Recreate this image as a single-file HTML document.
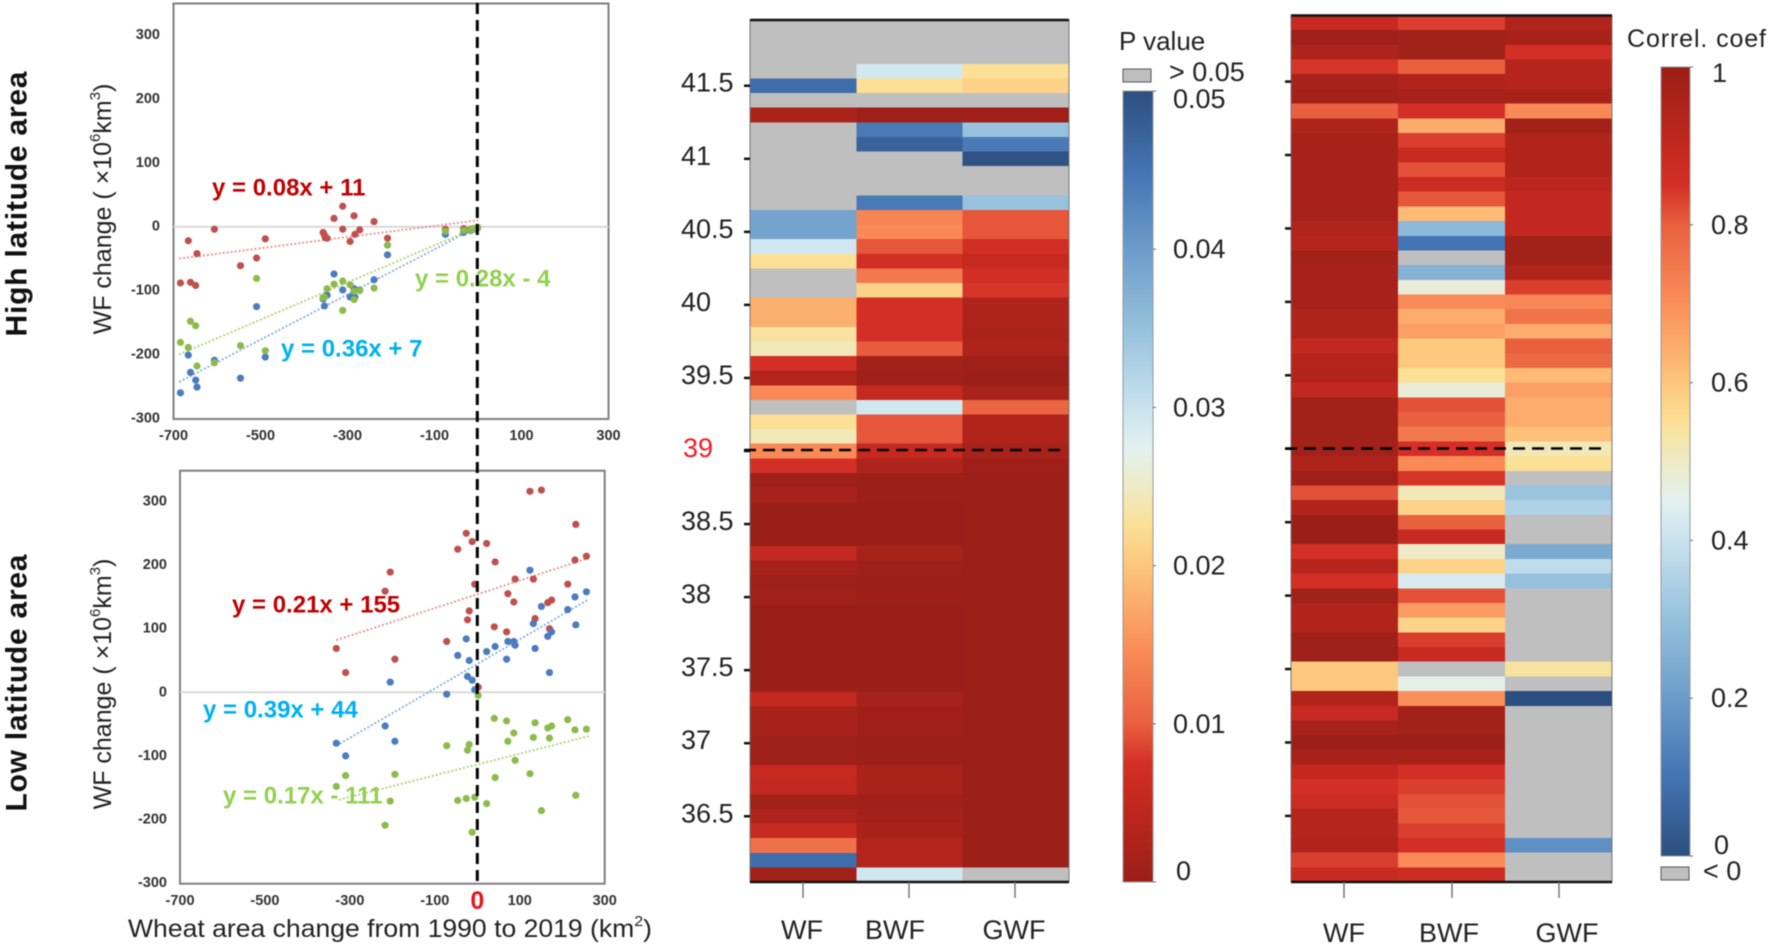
<!DOCTYPE html>
<html lang="en">
<head>
<meta charset="utf-8">
<title>Wheat water footprint change and latitude heatmaps</title>
<style>
html,body{margin:0;padding:0;background:#fff;}
svg{display:block;font-family:"Liberation Sans",sans-serif;filter:blur(0.5px);}
text{dominant-baseline:central;}
.tick{font-size:14.5px;font-weight:700;fill:#333;}
.eq{font-size:24px;font-weight:700;}
.big{font-size:27px;fill:#222;}
</style>
</head>
<body>
<svg id="figure" xmlns="http://www.w3.org/2000/svg" width="1772" height="946" viewBox="0 0 1772 946">
  <rect width="1772" height="946" fill="#fff"/>
  <defs>
    <linearGradient id="pGrad" x1="0" y1="1" x2="0" y2="0"></linearGradient>
    <linearGradient id="rGrad" x1="0" y1="0" x2="0" y2="1"></linearGradient>
  </defs>

  <text transform="translate(17,204) rotate(-90)" text-anchor="middle" font-size="30" font-weight="700" fill="#111" textLength="265" lengthAdjust="spacing">High latitude area</text>
  <text transform="translate(17,683) rotate(-90)" text-anchor="middle" font-size="30" font-weight="700" fill="#111" textLength="257" lengthAdjust="spacing">Low latitude area</text>

  <text transform="translate(103,209) rotate(-90)" text-anchor="middle" font-size="25" fill="#222">WF change ( ×10<tspan font-size="15" dy="-8">6</tspan><tspan dy="8">km</tspan><tspan font-size="15" dy="-8">3</tspan><tspan dy="8">)</tspan></text>
  <text transform="translate(103,684) rotate(-90)" text-anchor="middle" font-size="25" fill="#222">WF change ( ×10<tspan font-size="15" dy="-8">6</tspan><tspan dy="8">km</tspan><tspan font-size="15" dy="-8">3</tspan><tspan dy="8">)</tspan></text>

  <rect x="173.5" y="3.5" width="435" height="415.5" fill="none" stroke="#7f7f7f" stroke-width="2"/>
  <rect x="180" y="470.7" width="424.7" height="413" fill="none" stroke="#7f7f7f" stroke-width="2"/>

  <g id="scatterHigh"></g>
  <g id="scatterLow"></g>

  <text class="eq" x="212" y="188" fill="#c00000">y = 0.08x + 11</text>
  <text class="eq" x="415" y="279" fill="#92d050">y = 0.28x - 4</text>
  <text class="eq" x="281" y="349" fill="#00b0f0">y = 0.36x + 7</text>
  <text class="eq" x="232" y="605" fill="#c00000">y = 0.21x + 155</text>
  <text class="eq" x="203" y="710" fill="#00b0f0">y = 0.39x + 44</text>
  <text class="eq" x="223" y="796" fill="#92d050">y = 0.17x - 111</text>

  <line x1="477.3" y1="3" x2="477.3" y2="882" stroke="#000" stroke-width="3" stroke-dasharray="11 6"/>
  <text x="477.3" y="901" text-anchor="middle" font-size="25" font-weight="700" fill="#e8151b">0</text>
  <text x="128" y="929" font-size="25" fill="#222" textLength="524" lengthAdjust="spacingAndGlyphs">Wheat area change from 1990 to 2019 (km<tspan font-size="15" dy="-8">2</tspan><tspan dy="8">)</tspan></text>

  <g id="heatP"></g>
  <g id="heatR"></g>

  <line x1="744" y1="450" x2="1065" y2="450" stroke="#000" stroke-width="2.5" stroke-dasharray="12 7"/>
  <line x1="1285" y1="448.5" x2="1604" y2="448.5" stroke="#000" stroke-width="2.5" stroke-dasharray="12 7"/>

  <text x="1119" y="41" font-size="26" fill="#222">P value</text>
  <rect x="1123" y="69" width="28" height="13" fill="#bfbfbf" stroke="#555" stroke-width="1"/>
  <text class="big" x="1169" y="72">&gt; 0.05</text>
  <rect x="1123" y="91" width="30" height="791" fill="url(#pGrad)" stroke="#999" stroke-width="1"/>
  <g id="pTicks"></g>

  <text x="1627" y="39" font-size="25" fill="#222" textLength="139">Correl. coef</text>
  <rect x="1661" y="67" width="29" height="789" fill="url(#rGrad)" stroke="#999" stroke-width="1"/>
  <g id="rTicks"></g>
  <rect x="1661" y="867" width="28" height="13" fill="#bfbfbf" stroke="#555" stroke-width="1"/>
  <text class="big" x="1703" y="871">&lt; 0</text>
</svg>
<script>
/* ---------- scatter data: x = wheat area change, y = WF change ---------- */
var xTickLabels = [-700, -500, -300, -100, 100, 300];
var yTickLabels = [300, 200, 100, 0, -100, -200, -300];

var highRedX = [-684,-666,-661,-649,-646,-606,-546,-509,-489,-356,-353,-351,-347,-331,-311,-311,-294,-285,-283,-272,-239,-208,-75,-33,-17,-10,-1];
var highRedY = [-88,-22,-87,-92,-42,-4,-61,-49,-19,-9,-13,-17,-18,13,32,-4,-23,17,-12,-5,8,-18,-4,-3,-4,-3,-1];
var highBlueX = [-684,-666,-661,-649,-646,-606,-546,-509,-489,-356,-353,-347,-331,-311,-294,-285,-283,-272,-239,-208,-75,-33,-17,-10,-1];
var highBlueY = [-260,-201,-228,-240,-251,-209,-237,-125,-204,-113,-124,-107,-74,-99,-110,-97,-110,-99,-83,-44,-12,-9,-6,-4,-2];
var highGreenX = [-684,-666,-661,-649,-646,-606,-546,-509,-489,-356,-353,-347,-331,-311,-311,-294,-285,-285,-272,-239,-208,-75,-33,-17,-10,-1];
var highGreenY = [-181,-189,-148,-155,-218,-213,-186,-81,-194,-111,-110,-97,-90,-85,-131,-91,-101,-114,-100,-96,-29,-7,-6,-5,-3,-1];
var highRedTrendX = [-687, 0];
var highRedTrendY = [-50, 10];
var highBlueTrendX = [-687, 0];
var highBlueTrendY = [-243, 0];
var highGreenTrendX = [-687, 0];
var highGreenTrendY = [-200, 0];

var lowRedX = [-332,-310,-217,-205,-194,-72,-46,-26,-23,-19,-12,-6,2,22,40,42,69,72,86,89,124,132,136,151,166,170,175,213,230,232,257];
var lowRedY = [69,31,159,189,52,80,225,250,114,128,237,170,8,234,103,205,95,155,142,178,316,178,116,318,141,100,145,170,208,264,214];
var lowBlueX = [-332,-310,-217,-205,-194,-72,-46,-26,-23,-19,-12,-6,22,42,69,72,86,89,124,132,136,151,166,170,175,213,230,232,257];
var lowBlueY = [-80,-100,-53,16,-77,-3,58,84,25,50,19,4,64,72,52,80,80,74,192,108,69,135,88,31,95,130,150,106,158];
var lowGreenX = [-332,-310,-217,-205,-194,-72,-46,-26,-23,-19,-12,-6,2,22,40,42,69,72,86,89,124,132,136,151,166,170,175,213,230,232,257];
var lowGreenY = [-148,-131,-209,-171,-129,-84,-170,-167,-91,-82,-220,-165,-5,-175,-41,-134,-45,-77,-64,-107,-128,-71,-48,-186,-56,-72,-53,-43,-59,-162,-58];
var lowRedTrendX = [-332, 262];
var lowRedTrendY = [82, 211];
var lowBlueTrendX = [-332, 262];
var lowBlueTrendY = [-84, 146];
var lowGreenTrendX = [-326, 262];
var lowGreenTrendY = [-169, -69];

/* ---------- heatmap data: one value per 0.1 degree row, north to south; null = grey ---------- */
var n = null;
var columnLabels = ['WF', 'BWF', 'GWF'];
var latitudeTicks = [41.5, 41, 40.5, 40, 39.5, 39, 38.5, 38, 37.5, 37, 36.5];
var firstRowLatitude = 41.9;

var pWF = [n,n,n,n,.046,n,.002,n,n,n,n,n,n,.039,.039,.0293,.0225,n,n,.018,.018,.023,.0243,.0075,.003,.0145,n,.0225,.0243,.0145,.0075,
  .0005,.0015,0,0,0,.0052,.0015,.0005,.001,0,0,0,0,0,0,.0052,.0015,.0015,.0005,.0005,.0055,.0052,.001,.0025,.0058,.0118,.046,.001];
var pBWF = [n,n,n,.029,.0225,n,.0005,.0443,.0475,n,n,n,.0443,.0138,.0145,.0095,.0072,.0125,.0212,.0075,.0075,.0075,.0098,.0012,.0008,.0055,.0293,.0095,.0095,.0055,.0025,
  .0003,.0003,0,0,0,.0015,.0005,.0003,.0003,0,0,0,0,0,0,.0015,.0008,.0008,.0003,.0003,.002,.002,.0008,.0012,.0018,.003,.003,.0293];
var pGWF = [n,n,n,.0225,.0212,n,.0005,.0348,.0443,.0495,n,n,.0348,.0095,.0095,.0072,.0055,.0072,.0078,.0025,.0025,.002,.0025,.0008,.0003,.0015,.0105,.0028,.0028,.0015,.0008,
  .0002,.0002,.0002,.0002,.0002,.0002,.0002,.0002,.0002,.0002,.0002,.0002,.0002,.0002,.0002,.0002,.0002,.0002,.0002,.0002,.0002,.0002,.0002,.0002,.0002,.0002,.0003,n];

var rWF = [.885,.99,.95,.845,.97,.98,.8,.95,.965,.97,.97,.97,.97,.97,.945,.93,.98,.97,.97,.97,.95,.95,.9,.93,.945,.9,.98,.98,.98,.98,
  .95,.99,.815,.945,1,1,.85,.93,.85,.98,.945,.945,.99,.99,.595,.595,.945,.885,.97,.995,.97,.9,.85,.875,.93,.93,.945,.835,.885];
var rBWF = [.835,.98,.98,.8,.945,.97,.85,.645,.835,.885,.815,.875,.81,.62,.28,.1,n,.26,.48,.71,.645,.67,.595,.595,.55,.48,.815,.8,.75,.85,
  .71,.845,.515,.575,.8,.885,.5,.575,.43,.815,.68,.575,.835,.885,n,.46,.7,.98,.98,.995,.965,.85,.835,.815,.81,.835,.85,.71,.875];
var rGWF = [.945,.965,.85,.93,.93,.965,.71,.98,.945,.945,.945,.92,.9,.9,.9,.98,.98,.945,.835,.715,.76,.645,.8,.78,.62,.67,.645,.645,.61,.515,
  .55,n,.31,.35,n,n,.24,.38,.3,n,n,n,n,n,.54,n,0,n,n,n,n,n,n,n,n,n,.17,n,n];

var pBarTicks = [0.05, 0.04, 0.03, 0.02, 0.01, 0];
var pBarLabels = ['0.05', '0.04', '0.03', '0.02', '0.01', '0'];
var rBarTicks = [1, 0.8, 0.6, 0.4, 0.2, 0];
var rBarLabels = ['1', '0.8', '0.6', '0.4', '0.2', '0'];

var rampPos = [0, .1, .15, .2, .3, .4, .45, .5, .55, .6, .7, .8, .9, 1];
var rampCol = ['#9a1f18','#c2281f','#d32f26','#e9603f','#fb8f5a','#fdc67c','#fbe095','#eeebc6','#e2f1f0','#c9e3ee','#96c1dd','#6b9cca','#4374b3','#2c4f7f'];

/* ---------- helpers ---------- */
var SVGNS = 'http://www.w3.org/2000/svg';
function mk(parent, tag, attrs, text) {
  var e = document.createElementNS(SVGNS, tag);
  for (var k in attrs) e.setAttribute(k, attrs[k]);
  if (text !== undefined) e.textContent = text;
  parent.appendChild(e);
  return e;
}
function hex(c) { return [parseInt(c.substr(1,2),16), parseInt(c.substr(3,2),16), parseInt(c.substr(5,2),16)]; }
function ramp(t) {
  t = Math.max(0, Math.min(1, t));
  for (var i = 1; i < rampPos.length; i++) {
    if (t <= rampPos[i]) {
      var f = (t - rampPos[i-1]) / (rampPos[i] - rampPos[i-1]);
      var a = hex(rampCol[i-1]), b = hex(rampCol[i]);
      return 'rgb(' + Math.round(a[0]+(b[0]-a[0])*f) + ',' + Math.round(a[1]+(b[1]-a[1])*f) + ',' + Math.round(a[2]+(b[2]-a[2])*f) + ')';
    }
  }
  return rampCol[rampCol.length-1];
}

/* ---------- colorbar gradients: both run dark red to dark blue along their ramp ---------- */
rampPos.forEach(function (p, i) {
  mk(document.getElementById('pGrad'), 'stop', {offset: p, 'stop-color': rampCol[i]});
  mk(document.getElementById('rGrad'), 'stop', {offset: p, 'stop-color': rampCol[i]});
});

/* ---------- scatter panels ---------- */
function drawScatter(g, left, right, zeroY, unitY, labelRight, xLabelY, series) {
  var scaleX = function (v) { return left + (v + 700) / 1000 * (right - left); };
  var scaleY = function (v) { return zeroY - v * unitY; };
  var zero = mk(g, 'line', {x1: left, x2: right, y1: scaleY(0), y2: scaleY(0), stroke: '#d9d9d9', 'stroke-width': 2});
  
  
  yTickLabels.forEach(function (v) {
    var t = mk(g, 'text', {x: labelRight, y: scaleY(v), 'text-anchor': 'end', 'class': 'tick'}, v);
    
    
  });
  xTickLabels.forEach(function (v) {
    var t = mk(g, 'text', {x: scaleX(v), y: xLabelY, 'text-anchor': 'middle', 'class': 'tick'}, v);
    
    
  });
  series.forEach(function (s) {
    var line = mk(g, 'line', {x1: scaleX(s.tx[0]), y1: scaleY(s.ty[0]), x2: scaleX(s.tx[1]), y2: scaleY(s.ty[1]), stroke: s.trend, 'stroke-width': 2, 'stroke-dasharray': '2 2'});
    
    
  });
  series.forEach(function (s) {
    s.x.forEach(function (v, i) {
      var c = mk(g, 'circle', {cx: scaleX(v), cy: scaleY(s.y[i]), r: 3.6, fill: s.color});
      
      
    });
  });
}
drawScatter(document.getElementById('scatterHigh'), 173.5, 608.5, 226.7, 0.639, 160, 436, [
  {name: 'wf-red', x: highRedX, y: highRedY, tx: highRedTrendX, ty: highRedTrendY, color: '#bf504d', trend: '#e29a97'},
  {name: 'bwf-blue', x: highBlueX, y: highBlueY, tx: highBlueTrendX, ty: highBlueTrendY, color: '#4a7cbf', trend: '#8fb2dc'},
  {name: 'gwf-green', x: highGreenX, y: highGreenY, tx: highGreenTrendX, ty: highGreenTrendY, color: '#8cbb4c', trend: '#b3d37e'}
]);
drawScatter(document.getElementById('scatterLow'), 180, 604.7, 692.3, 0.636, 167, 901, [
  {name: 'wf-red', x: lowRedX, y: lowRedY, tx: lowRedTrendX, ty: lowRedTrendY, color: '#bf504d', trend: '#e29a97'},
  {name: 'bwf-blue', x: lowBlueX, y: lowBlueY, tx: lowBlueTrendX, ty: lowBlueTrendY, color: '#4a7cbf', trend: '#8fb2dc'},
  {name: 'gwf-green', x: lowGreenX, y: lowGreenY, tx: lowGreenTrendX, ty: lowGreenTrendY, color: '#8cbb4c', trend: '#b3d37e'}
]);

/* ---------- heatmaps ---------- */
function drawHeatmap(g, columns, toT, left, right, top, bottom, tickCenters, labelCenters, labelY, name) {
  var rows = columns[0].length;
  var rowH = (bottom - top) / rows;
  var colW = (right - left) / columns.length;
  columns.forEach(function (col, c) {
    col.forEach(function (v, r) {
      var cell = mk(g, 'rect', {x: left + c * colW, y: top + r * rowH, width: colW + 0.5, height: rowH + 0.5,
        fill: v === null ? '#bfbfbf' : ramp(toT(v)), 'shape-rendering': 'crispEdges'});
      
      
    });
  });
  var frameL = mk(g, 'line', {x1: left, x2: left, y1: top, y2: bottom, stroke: '#777', 'stroke-width': 1});
  
  
  var frameR = mk(g, 'line', {x1: right, x2: right, y1: top, y2: bottom, stroke: '#777', 'stroke-width': 1});
  
  
  var frameT = mk(g, 'line', {x1: left, x2: right, y1: top, y2: top, stroke: '#111', 'stroke-width': 2.5});
  
  
  var frameB = mk(g, 'line', {x1: left, x2: right, y1: bottom, y2: bottom, stroke: '#111', 'stroke-width': 2.5});
  
  
  latitudeTicks.forEach(function (lat) {
    var y = top + ((firstRowLatitude - lat) / 0.1 + 0.5) * rowH;
    var tk = mk(g, 'line', {x1: left - 6, x2: left, y1: y, y2: y, stroke: '#111', 'stroke-width': 2.5});
    
    
  });
  columnLabels.forEach(function (lab, i) {
    var tk = mk(g, 'line', {x1: tickCenters[i], x2: tickCenters[i], y1: bottom, y2: bottom + 16, stroke: '#777', 'stroke-width': 1.5});
    
    
    var t = mk(g, 'text', {x: labelCenters[i], y: labelY, 'text-anchor': 'middle', 'font-size': 27, fill: '#222'}, lab);
    
    
  });
}
var heatP = document.getElementById('heatP');
drawHeatmap(heatP, [pWF, pBWF, pGWF], function (p) { return p / 0.05; }, 750, 1069, 20, 882, [803, 909, 1015], [802, 895, 1014], 930, 'p-value');
drawHeatmap(document.getElementById('heatR'), [rWF, rBWF, rGWF], function (r) { return 1 - r; }, 1291, 1612, 15.5, 882, [1344, 1452, 1559], [1344, 1449, 1567], 933, 'correlation');

latitudeTicks.forEach(function (lat) {
  var rowH = (882 - 20) / pWF.length;
  var y = 20 + ((firstRowLatitude - lat) / 0.1 + 0.5) * rowH;
  var isEquator = lat === 39;
  var t = mk(heatP, 'text', {x: isEquator ? 683 : 681, y: y - 3, 'font-size': 27, fill: isEquator ? '#ee1c25' : '#222'}, lat);
  
  
});

/* ---------- colorbar ticks ---------- */
var pTickGroup = document.getElementById('pTicks');
pBarTicks.forEach(function (v, i) {
  var y = 882 - v / 0.05 * 791;
  var tk = mk(pTickGroup, 'line', {x1: 1153, x2: 1156, y1: y, y2: y, stroke: '#666', 'stroke-width': 1});
  
  
  var labelY = i === 0 ? y + 8 : (v === 0 ? y - 11 : y);
  var t = mk(pTickGroup, 'text', {x: v === 0 ? 1176 : 1173, y: labelY, 'class': 'big'}, pBarLabels[i]);
  
  
});
var rTickGroup = document.getElementById('rTicks');
rBarTicks.forEach(function (v, i) {
  var y = 856 - v * 789;
  var tk = mk(rTickGroup, 'line', {x1: 1690, x2: 1693, y1: y, y2: y, stroke: '#666', 'stroke-width': 1});
  
  
  var labelY = i === 0 ? y + 6 : (v === 0 ? y - 11 : y);
  var t = mk(rTickGroup, 'text', {x: v === 0 ? 1714 : (i === 0 ? 1712 : 1711), y: labelY, 'class': 'big'}, rBarLabels[i]);
  
  
});
</script>
</body>
</html>
